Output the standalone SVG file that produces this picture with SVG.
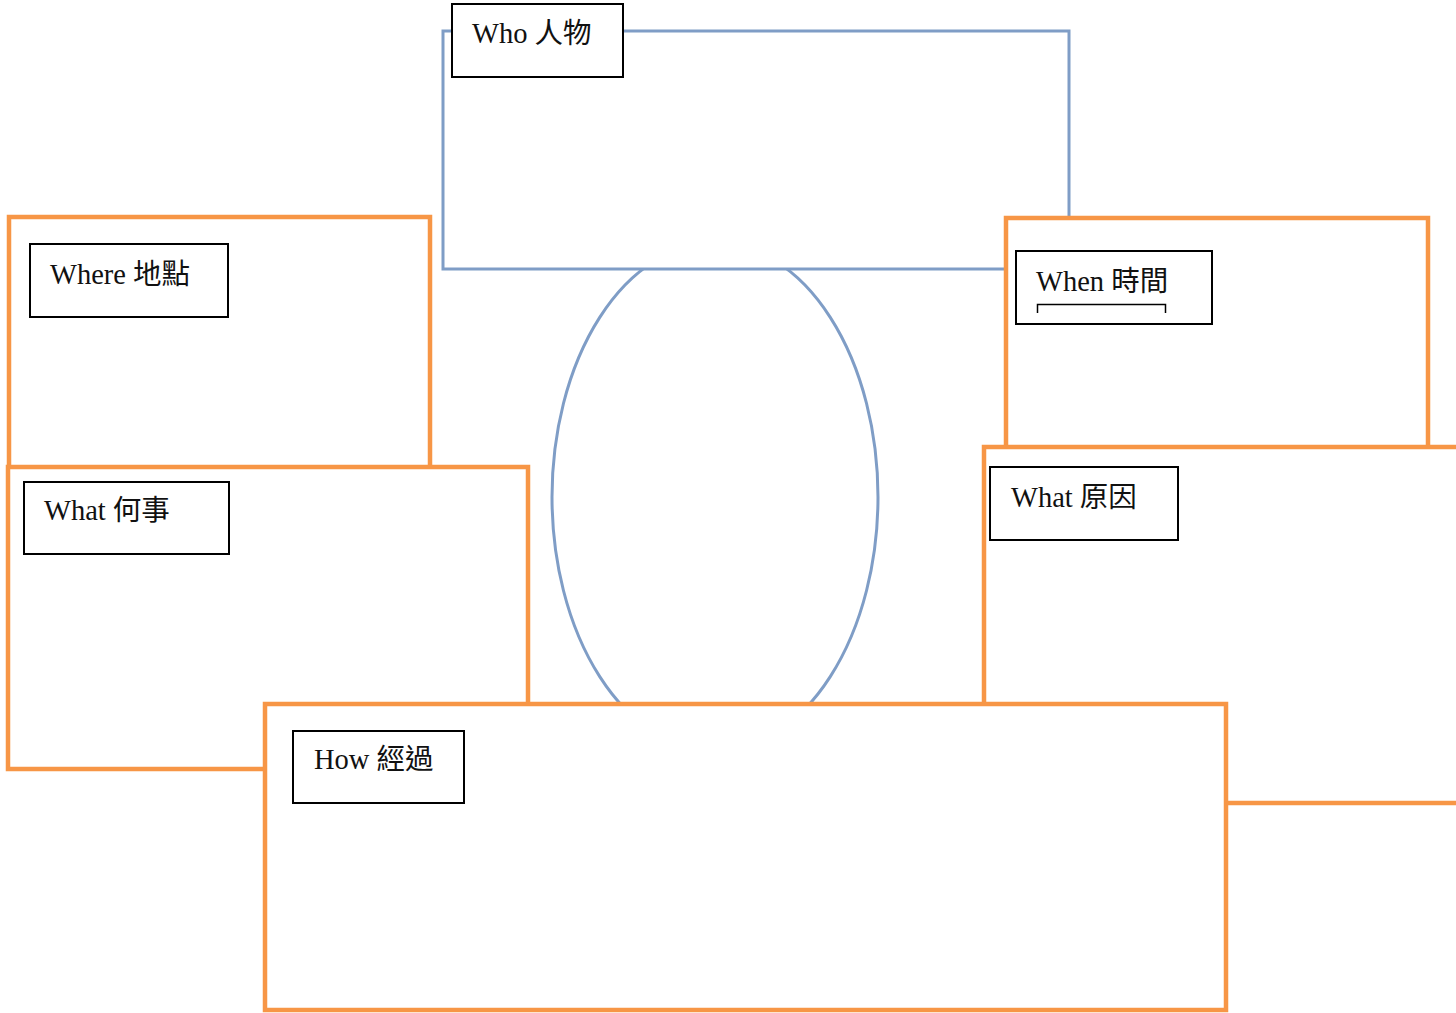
<svg xmlns="http://www.w3.org/2000/svg" width="1456" height="1013" viewBox="0 0 1456 1013">
<style>
.blue{fill:#fff;stroke:#7F9DC6;stroke-width:3}
.org{fill:#fff;stroke:#F79646;stroke-width:4.5}
.lbl{fill:#fff;stroke:#000;stroke-width:2}
.t{font-family:"Liberation Serif","Noto Sans CJK TC",serif;font-size:28.5px;fill:#111}
</style>
<rect width="1456" height="1013" fill="#fff"/>
<g id="center">
<ellipse class="blue" cx="715" cy="497" rx="163" ry="254"/>
</g>
<g id="who">
<rect class="blue" x="443" y="31" width="626" height="238"/>
<rect class="lbl" x="452" y="4" width="171" height="73"/>
<text class="t" x="472" y="43">Who 人物</text>
</g>
<g id="where">
<rect class="org" x="9" y="217" width="421" height="260"/>
<rect class="lbl" x="30" y="244" width="198" height="73"/>
<text class="t" x="50" y="284">Where 地點</text>
</g>
<g id="when">
<rect class="org" x="1006" y="218" width="422" height="240"/>
<rect class="lbl" x="1016" y="251" width="196" height="73"/>
<text class="t" x="1036" y="291">When 時間</text>
<path d="M1037.5 313V304.5H1165.5V313" fill="none" stroke="#000" stroke-width="1.5"/>
</g>
<g id="why">
<rect class="org" x="984" y="447" width="480" height="356"/>
<rect class="lbl" x="990" y="467" width="188" height="73"/>
<text class="t" x="1011" y="507">What 原因</text>
</g>
<g id="what">
<rect class="org" x="8" y="467" width="520" height="302"/>
<rect class="lbl" x="24" y="482" width="205" height="72"/>
<text class="t" x="44" y="520">What 何事</text>
</g>
<g id="how">
<rect class="org" x="265" y="704" width="961" height="306"/>
<rect class="lbl" x="293" y="731" width="171" height="72"/>
<text class="t" x="314" y="769">How 經過</text>
</g>
<g id="connectors"></g>
</svg>
